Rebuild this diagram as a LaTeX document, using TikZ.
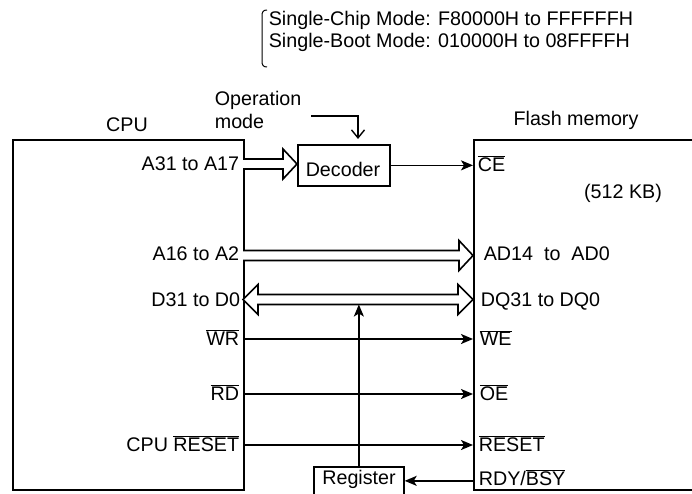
\documentclass[tikz,border=0pt]{standalone}
\usepackage{fontspec}
\setmainfont{Liberation Sans}
\usetikzlibrary{arrows.meta}
\newcommand\ovl[1]{$\overline{\hbox{#1}}$}
\newcommand\fatarr[2]{%
  \draw[fat] ([yshift=5pt]#1) -- ([xshift=-14pt,yshift=5pt]#2) -- ([xshift=-14pt,yshift=15pt]#2) -- (#2)
    -- ([xshift=-14pt,yshift=-15pt]#2) -- ([xshift=-14pt,yshift=-5pt]#2) -- ([yshift=-5pt]#1);}
\newcommand\dfatarr[2]{%
  \draw[fat] ([xshift=15pt,yshift=5pt]#1) -- ([xshift=-15pt,yshift=5pt]#2) -- ([xshift=-15pt,yshift=15pt]#2) -- (#2)
    -- ([xshift=-15pt,yshift=-15pt]#2) -- ([xshift=-15pt,yshift=-5pt]#2) -- ([xshift=15pt,yshift=-5pt]#1)
    -- ([xshift=15pt,yshift=-15pt]#1) -- (#1) -- ([xshift=15pt,yshift=15pt]#1) -- cycle;}
\begin{document}
\begin{tikzpicture}[x=1pt,y=-1pt,line width=1.7pt,
  txt/.style={inner sep=0pt, font=\fontsize{19.7}{23.6}\selectfont},
  box/.style={draw, line width=1.7pt, inner sep=0pt, anchor=north west},
  sig/.style={-{Stealth[length=12pt,width=10pt,inset=3pt]}, line width=1.7pt},
  fat/.style={line width=1.6pt, fill=white, line join=miter}]
\clip (0,0) rectangle (692,493);
% boxes
\node[box, minimum width=231pt, minimum height=350pt] (cpu) at (12,139) {};
\node[box, minimum width=260pt, minimum height=350pt] (flash) at (473,139) {};
\node[box, minimum width=92pt, minimum height=41pt] (dec) at (297,144) {};
\node[box, minimum width=90pt, minimum height=28pt] (reg) at (313,466) {};
% titles and notes
\node[txt, anchor=base] (tcpu) at (127,131.5) {CPU};
\node[txt, anchor=base] (tflash) at (576,125.5) {Flash memory};
\node[txt, anchor=base] (tkb) at (623,198) {(512 KB)};
\node[txt, anchor=base] (tdec) at (343,176.5) {Decoder};
\node[txt, anchor=base] (treg) at (359,484.3) {Register};
\node[txt, anchor=base west] (op1) at (214,105.7) {Operation};
\node[txt, anchor=base west] (op2) at (214,128.3) {mode};
\node[txt, anchor=base west] (m1) at (268,25.7) {Single-Chip Mode: F80000H to FFFFFFH};
\node[txt, anchor=base west] (m2) at (268,47.7) {Single-Boot Mode: 010000H to 08FFFFH};
\draw[line width=1pt] (267,10) .. controls (263,10) and (262,12) .. (262,16) -- (262,61) .. controls (262,65) and (263,67) .. (267,67);
% CPU labels
\node[txt, anchor=base east] (la31) at (240,170.7) {A31 to A17};
\node[txt, anchor=base east] (la16) at (240,260.7) {A16 to A2};
\node[txt, anchor=base east] (ld31) at (241,306) {D31 to D0};
\node[txt, anchor=base east] (lwr) at (240,345) {\ovl{WR}};
\node[txt, anchor=base east] (lrd) at (240,400) {\ovl{RD}};
\node[txt, anchor=base east] (lcr) at (240,451.7) {CPU \ovl{RESET}};
% Flash labels
\node[txt, anchor=base west] (lce) at (477,171.7) {\ovl{CE}};
\node[txt, anchor=base west] (lad) at (483,260.7) {AD14~~to~~AD0};
\node[txt, anchor=base west] (ldq) at (480,306) {DQ31 to DQ0};
\node[txt, anchor=base west] (lwe) at (479,345.7) {\ovl{WE}};
\node[txt, anchor=base west] (loe) at (479,400) {\ovl{OE}};
\node[txt, anchor=base west] (lrs) at (478,451.7) {\ovl{RESET}};
\node[txt, anchor=base west] (lrdy) at (478,485) {RDY/\ovl{BSY}};
% coordinates
\coordinate (a31L) at (243,164);
\coordinate (a16L) at (243,255.5);
\coordinate (a16R) at (473,255.5);
\coordinate (d31L) at (243,299.5);
\coordinate (d31R) at (473,299.5);
\coordinate (wr) at (243,339);
\coordinate (rd) at (243,394);
\coordinate (rs) at (243,445);
\coordinate (omA) at (311,116);
\coordinate (omB) at (358,139);
% buses
\fatarr{a31L}{a31L -| dec.west}
\fatarr{a16L}{a16R}
\dfatarr{d31L}{d31R}
% signals
\draw[sig] (dec.east) -- (dec.east -| flash.west);
\draw[sig] (wr) -- (wr -| flash.west);
\draw[sig] (rd) -- (rd -| flash.west);
\draw[sig] (rs) -- (rs -| flash.west);
\draw[sig] (reg.east -| flash.west) -- (reg.east);
\draw[sig] (reg.north) -- ([yshift=-5pt]reg.north |- d31R);
\draw[-{Straight Barb[length=8pt,width=13pt]}, line width=1.4pt] (omA) -| (omB);
\end{tikzpicture}
\end{document}
